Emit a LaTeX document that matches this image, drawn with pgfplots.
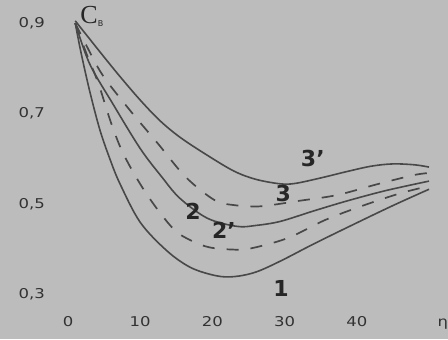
\documentclass[border=0pt]{standalone}
\usepackage{pgfplots}
\pgfplotsset{compat=1.18}
\usepackage{fontspec}
\setmainfont{DejaVu Sans}
\newfontfamily\tickfont[FakeStretch=1.22]{DejaVu Sans}
\newfontfamily\serfont{Liberation Serif}
\definecolor{bg}{RGB}{188,188,188}
\definecolor{ln}{RGB}{72,72,72}
\definecolor{tx}{RGB}{50,50,50}

\begin{document}
\begin{tikzpicture}
\begin{axis}[
  scale only axis, width=448pt, height=339pt,
  xmin=-9.42, xmax=52.63, ymin=0.2022, ymax=0.9511,
  axis background/.style={fill=bg},
  axis line style={draw=none},
  major tick length=0pt,
  xtick={0,10,20,30,40}, ytick={0.3,0.5,0.7,0.9},
  xticklabels={0,10,20,30,40},
  yticklabels={{0,3},{0,5},{0,7},{0,9}},
  xticklabel style={font=\tickfont\fontsize{13.5}{14}\selectfont, text=tx, anchor=center, yshift=17pt},
  yticklabel style={font=\tickfont\fontsize{13.5}{14}\selectfont, text=tx, anchor=east, inner sep=0pt, xshift=45pt},
  cycle list={{ln}},
]
% curve 3' (solid, top)
\addplot[ln, smooth, tension=0.55, line width=1.6pt, no markers] coordinates {(1,0.905) (2.5,0.875) (5,0.825) (7.2,0.782) (10,0.73) (12.7,0.685) (15.5,0.648) (19.3,0.608) (23,0.573) (26,0.555) (29.4,0.545) (31.5,0.546) (35,0.558) (38.6,0.572) (42,0.584) (45,0.589) (48,0.587) (50,0.582)};
% curve 3 (dashed)
\addplot[ln, smooth, tension=0.55, line width=1.7pt, no markers, dash pattern=on 12pt off 12pt] coordinates {(1,0.9) (2.5,0.852) (4.8,0.785) (8.6,0.707) (12.5,0.633) (16.3,0.56) (20.3,0.509) (23,0.498) (26.3,0.495) (29,0.5) (31.8,0.507) (37.2,0.52) (42.8,0.544) (47.8,0.564) (50,0.569)};
% curve 2 (solid)
\addplot[ln, smooth, tension=0.55, line width=1.6pt, no markers] coordinates {(1,0.9) (3,0.81) (6.2,0.722) (10,0.623) (13,0.56) (15.5,0.513) (19.3,0.469) (23.4,0.451) (26,0.453) (29.4,0.462) (34,0.485) (38.6,0.507) (44,0.53) (50,0.551)};
% curve 2' (dashed)
\addplot[ln, smooth, tension=0.55, line width=1.7pt, no markers, dash pattern=on 12pt off 12pt] coordinates {(1,0.9) (2.5,0.835) (4.2,0.767) (6,0.678) (7.8,0.607) (10.9,0.522) (14.5,0.447) (17,0.42) (19.5,0.405) (22.5,0.4) (25.2,0.402) (30.4,0.425) (35.6,0.465) (40.7,0.496) (46,0.524) (50,0.54)};
% curve 1 (solid, bottom)
\addplot[ln, smooth, tension=0.55, line width=1.6pt, no markers] coordinates {(1,0.9) (1.8,0.835) (3,0.75) (4.4,0.665) (5.8,0.6) (7.2,0.545) (10,0.46) (13.7,0.397) (17,0.36) (20.5,0.342) (23,0.34) (26,0.35) (29.5,0.375) (34,0.412) (39.5,0.455) (45,0.497) (50,0.533)};

\node[font=\bfseries\fontsize{22}{22}\selectfont, text=black!85] at (axis cs:33.9,0.600) {3'};
\node[font=\bfseries\fontsize{22}{22}\selectfont, text=black!85] at (axis cs:29.8,0.524) {3};
\node[font=\bfseries\fontsize{22}{22}\selectfont, text=black!85] at (axis cs:17.3,0.484) {2};
\node[font=\bfseries\fontsize{22}{22}\selectfont, text=black!85] at (axis cs:21.6,0.442) {2'};
\node[font=\bfseries\fontsize{22}{22}\selectfont, text=black!85] at (axis cs:29.5,0.313) {1};
\node[font=\tickfont\fontsize{13.5}{14}\selectfont, text=tx] at (axis cs:51.9,0.2356) {η};
\node[text=black!85, inner sep=0pt] at (axis cs:3.3,0.914) {{\serfont\fontsize{26}{26}\selectfont C}\raisebox{-3pt}{\fontsize{8}{8}\selectfont B}};
\end{axis}
\pgfresetboundingbox
\path (current axis.south west) rectangle (current axis.north east);
\end{tikzpicture}
\end{document}
